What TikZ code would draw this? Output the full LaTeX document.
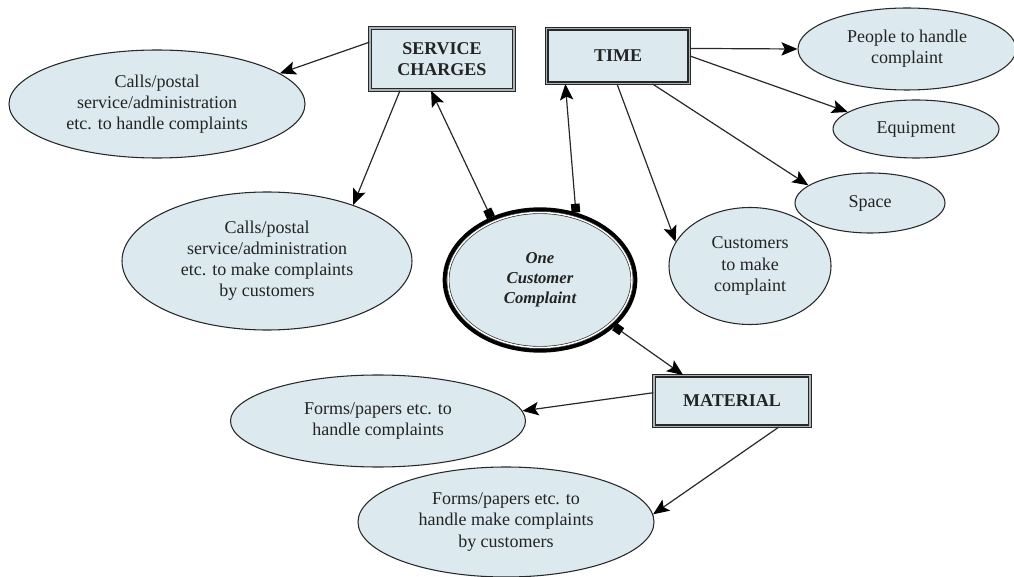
\documentclass[tikz,border=0pt]{standalone}
\usepackage{fontspec}
\setmainfont{Liberation Serif}
\usetikzlibrary{shapes.geometric,arrows.meta}
\definecolor{cfill}{RGB}{220,234,239}
\definecolor{cline}{RGB}{40,40,40}
\definecolor{cgap}{RGB}{170,180,184}
\definecolor{ctext}{RGB}{35,35,35}

\begin{document}
\begin{tikzpicture}[x=0.75pt, y=-0.75pt,
  every node/.style={text=ctext, align=center, inner sep=0pt,
    font=\fontsize{13.5}{15.8}\selectfont},
  bubble/.style={ellipse, draw=cline, line width=0.8pt, fill=cfill},
  box/.style={rectangle, draw=cline, line width=1pt, double=cgap,
    double distance=1.2pt, fill=cfill,
    font=\fontsize{13.5}{15.8}\selectfont\bfseries},
  link/.style={draw=cline, line width=0.9pt,
    -{Stealth[length=12pt,width=10pt,inset=2.5pt,black]}},
  both/.style={draw=cline, line width=0.9pt,
    {Square[length=6.5pt,width=6.5pt,black]}-{Stealth[length=12pt,width=10pt,inset=2.5pt,black]}}]
  \useasboundingbox (0,0) rectangle (1014,577);

  % cost headings
  \node (svc) [box, minimum width=108pt, minimum height=46.5pt] at (442,59) {SERVICE\\CHARGES};
  \node (time) [box, minimum width=107pt, minimum height=41pt] at (618,56) {TIME};
  \node (mat) [box, minimum width=117pt, minimum height=38pt] at (732,401) {MATERIAL};

  % the complaint itself
  \node (core) [ellipse, draw=black, line width=3pt, fill=cfill,
    minimum width=143pt, minimum height=106pt,
    font=\fontsize{12.5}{15}\selectfont\bfseries\itshape] at (540,280)
    {One\\Customer\\Complaint};
  \draw[cline, line width=0.5pt, double=white, double distance=1.1pt]
    (core.center) ellipse [x radius=69pt, y radius=50.6pt];

  % what each cost is made of
  \node (callsA) [bubble, minimum width=222pt, minimum height=81pt] at (157,104)
    {Calls/postal\\service/administration\\etc. to handle complaints};
  \node (callsB) [bubble, minimum width=217.5pt, minimum height=103.5pt] at (267,261)
    {Calls/postal\\service/administration\\etc. to make complaints\\by customers};
  \node (people) [bubble, minimum width=163.5pt, minimum height=61.5pt] at (907,49)
    {People to handle\\complaint};
  \node (equip) [bubble, minimum width=124.5pt, minimum height=43.5pt] at (916,129) {Equipment};
  \node (space) [bubble, minimum width=112.5pt, minimum height=45pt] at (870,203) {Space};
  \node (cust) [bubble, minimum width=121.5pt, minimum height=87.75pt] at (750,266)
    {Customers\\to make\\complaint};
  \node (formsA) [bubble, minimum width=221.25pt, minimum height=69pt] at (378,421)
    {Forms/papers etc. to\\handle complaints};
  \node (formsB) [bubble, minimum width=222pt, minimum height=82.5pt] at (506,522)
    {Forms/papers etc. to\\handle make complaints\\by customers};

  \draw[link] (svc.167) -- (callsA.14);
  \draw[link] (svc.217) -- (callsB.33);
  \draw[both] (core.128) -- (svc.251);
  \draw[both] (core.62) -- (time.208);
  \draw[link] (time.6) -- (people.west);
  \draw[link] (time.east) -- (equip.166);
  \draw[link] (time.321) -- (space.164);
  \draw[link] (time.268) -- (cust.162);
  \draw[both] (core.328) -- (mat.152);
  \draw[link] (mat.174) -- (formsA.4);
  \draw[link] (mat.331) -- (formsB.3);
\end{tikzpicture}
\end{document}
